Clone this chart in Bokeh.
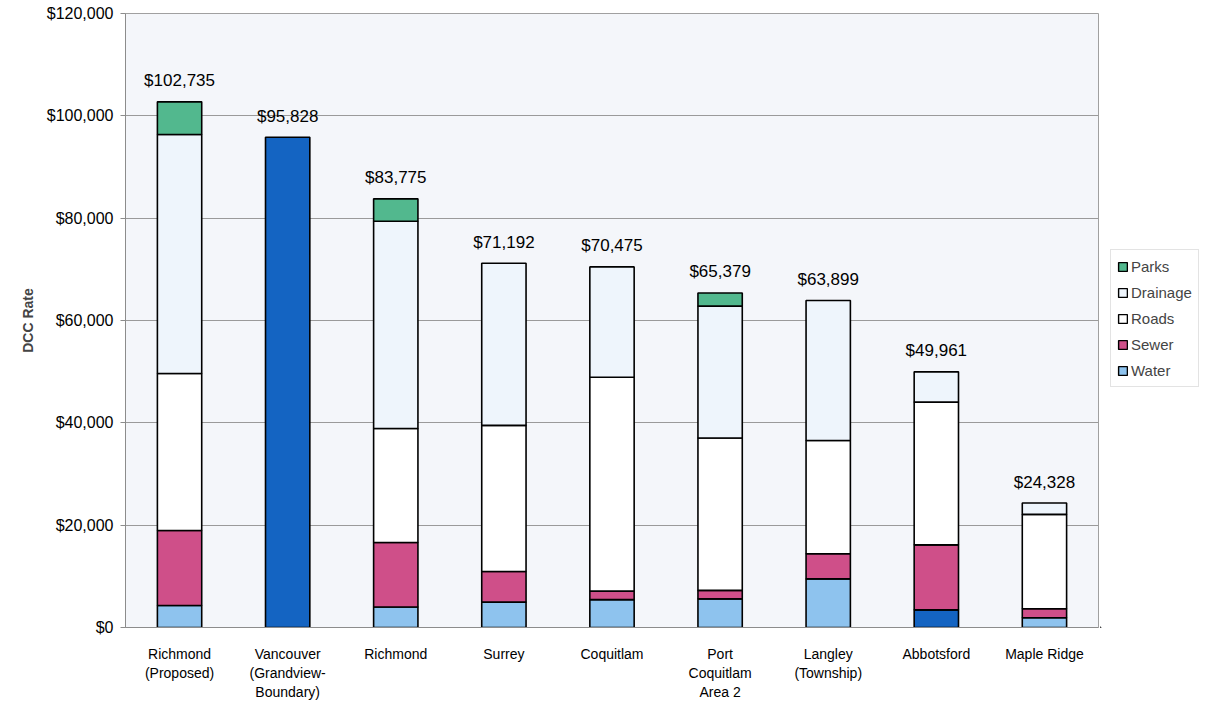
from bokeh.plotting import figure
from bokeh.layouts import row
from bokeh.models import (FactorRange, Range1d, ColumnDataSource, Legend, LegendItem,
                          SingleIntervalTicker, NumeralTickFormatter)
from bokeh.core.properties import value
from bokeh.embed import file_html
from bokeh.resources import INLINE

# ---- data ----
categories = [
    "Richmond\n(Proposed)",
    "Vancouver\n(Grandview-\nBoundary)",
    "Richmond",
    "Surrey",
    "Coquitlam",
    "Port\nCoquitlam\nArea 2",
    "Langley\n(Township)",
    "Abbotsford",
    "Maple Ridge",
]
water    = [4300, 95828, 4000, 4950, 5450, 5600, 9500, 3450, 1900]
sewer    = [14650, 0, 12600, 6000, 1650, 1650, 4900, 12700, 1750]
roads    = [30700, 0, 22300, 28550, 41800, 29800, 22150, 27900, 18450]
drainage = [46700, 0, 40500, 31692, 21575, 25750, 27349, 5911, 2228]
parks    = [6385, 0, 4375, 0, 0, 2579, 0, 0, 0]
totals   = [102735, 95828, 83775, 71192, 70475, 65379, 63899, 49961, 24328]
total_labels = ["$102,735", "$95,828", "$83,775", "$71,192", "$70,475",
                "$65,379", "$63,899", "$49,961", "$24,328"]

# categories whose water segment is drawn in the dark highlight colour
dark_water = {"Vancouver\n(Grandview-\nBoundary)", "Abbotsford"}

series = [
    ("Water", water, "#8EC3EE"),
    ("Sewer", sewer, "#CF4F89"),
    ("Roads", roads, "#FFFFFF"),
    ("Drainage", drainage, "#EEF5FC"),
    ("Parks", parks, "#52B88E"),
]
legend_order = ["Parks", "Drainage", "Roads", "Sewer", "Water"]
DARK_BLUE = "#1464C2"
FONT = "Liberation Sans"

p = figure(
    width=1100, height=704,
    x_range=FactorRange(*categories, range_padding=0),
    y_range=Range1d(0, 120000),
    output_backend="svg", toolbar_location=None,
    min_border_left=125, min_border_right=2, min_border_top=13, min_border_bottom=77,
    background_fill_color="#F4F6FA", border_fill_color="white",
)
p.outline_line_color = "#A0A0A0"
p.outline_line_width = 1

# stacked bars
bottoms = [0] * len(categories)
for name, vals, color in series:
    xs, b, t, fills = [], [], [], []
    for i, v in enumerate(vals):
        if v > 0:
            xs.append(categories[i])
            b.append(bottoms[i])
            t.append(bottoms[i] + v)
            if name == "Water" and categories[i] in dark_water:
                fills.append(DARK_BLUE)
            else:
                fills.append(color)
        bottoms[i] += v
    src = ColumnDataSource(dict(x=xs, bottom=b, top=t, fill=fills))
    p.vbar(x="x", bottom="bottom", top="top", width=0.41, source=src,
           fill_color="fill", line_color="black", line_width=1.6)

# total labels
lsrc = ColumnDataSource(dict(x=categories, y=totals, t=total_labels))
p.text(x="x", y="y", text="t", source=lsrc, text_align="center", text_baseline="middle",
       y_offset=-21, text_font=value(FONT), text_font_size="17px", text_color="black")

# axes
p.yaxis.ticker = SingleIntervalTicker(interval=20000)
p.yaxis.formatter = NumeralTickFormatter(format="$0,0")
p.yaxis.axis_label = "DCC Rate"
p.yaxis.axis_label_text_font = FONT
p.yaxis.axis_label_text_font_size = "14px"
p.yaxis.axis_label_text_font_style = "bold"
p.yaxis.axis_label_standoff = 8
p.yaxis.major_label_text_font = FONT
p.yaxis.major_label_text_font_size = "16px"
p.yaxis.major_label_text_color = "black"
p.yaxis.major_label_standoff = 7
p.yaxis.axis_line_color = "#8C8C8C"
p.yaxis.major_tick_line_color = "#8C8C8C"
p.yaxis.major_tick_out = 5
p.yaxis.major_tick_in = 0
p.yaxis.minor_tick_line_color = None

p.xaxis.major_label_text_font = FONT
p.xaxis.major_label_text_font_size = "14px"
p.xaxis.major_label_text_color = "black"
p.xaxis.major_label_standoff = 12
p.xaxis.axis_line_color = "#8C8C8C"
p.xaxis.major_tick_line_color = None
p.xaxis.minor_tick_line_color = None

p.xgrid.visible = False
p.ygrid.grid_line_color = "#9A9A9A"
p.ygrid.grid_line_width = 1

# legend panel to the right of the chart (swatches come from off-range proxy bars)
q = figure(width=121, height=704, x_range=Range1d(0, 1), y_range=Range1d(0, 1),
           output_backend="svg", toolbar_location=None,
           x_axis_location=None, y_axis_location=None,
           min_border=0, outline_line_color=None,
           background_fill_color="white", border_fill_color="white")
q.grid.visible = False
colors = {n: c for n, _, c in series}
items = []
for n in legend_order:
    proxy = ColumnDataSource(dict(x=[-50], bottom=[-60], top=[-50]))
    r = q.vbar(x="x", bottom="bottom", top="top", width=0.5, source=proxy,
               fill_color=colors[n], line_color="black", line_width=1.4)
    items.append(LegendItem(label=n, renderers=[r]))
legend = Legend(items=items, location=(10, 240), margin=0, padding=6,
                label_text_font=FONT, label_text_font_size="15px",
                glyph_width=11, glyph_height=11, label_height=20, spacing=6,
                label_standoff=3, border_line_color="#C8C8C8",
                background_fill_color="white")
q.add_layout(legend, "center")

layout = row(p, q, spacing=0)
open("out.html", "w").write(file_html(layout, INLINE))
